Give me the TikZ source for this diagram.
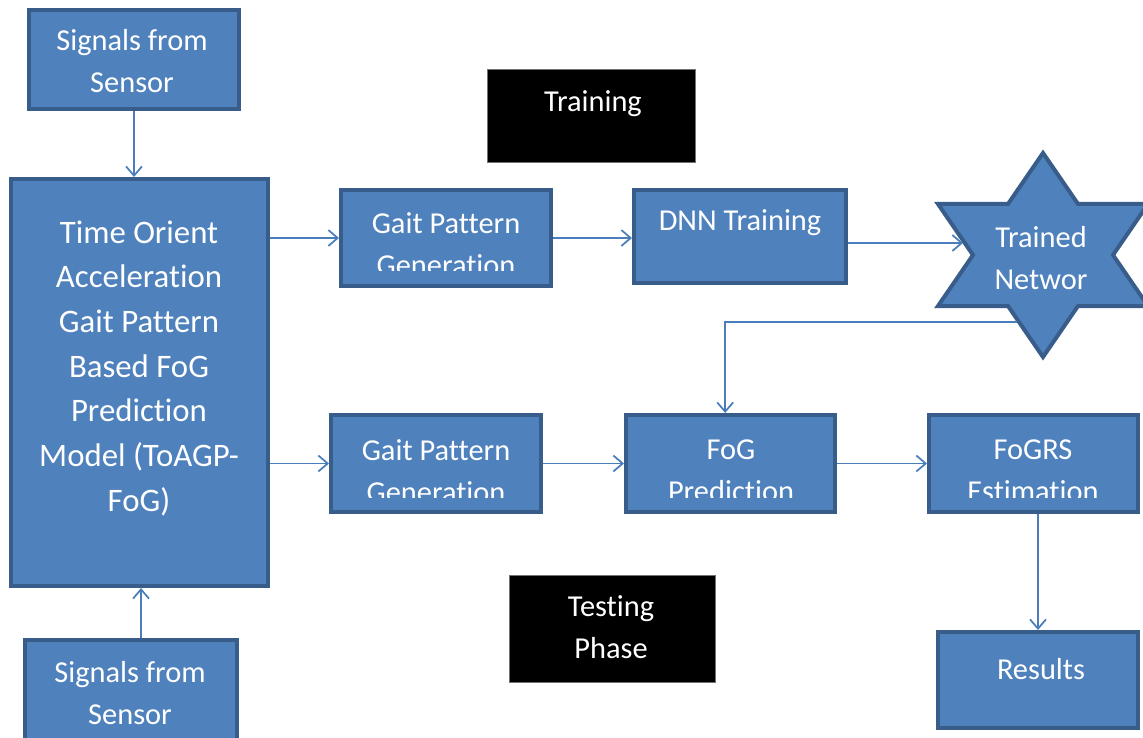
\documentclass[tikz,border=0pt]{standalone}
\usepackage{fontspec}
\setmainfont[Ligatures={NoCommon}]{Carlito}
\usetikzlibrary{arrows.meta,fit}
\definecolor{boxfill}{HTML}{4F81BD}
\definecolor{boxline}{HTML}{385D8A}
\definecolor{arrowc}{HTML}{4A7EBB}
\tikzset{
 box/.style={draw=boxline, line width=3pt, fill=boxfill, inner sep=0pt},
 blk/.style={fill=black, draw=black!55, line width=0.6pt, inner sep=0pt},
 txt/.style={text=white, align=center, font=\fontsize{22.8}{31.5}\selectfont, inner sep=0pt},
 conn/.style={draw=arrowc, line width=1.3pt, -{Straight Barb[length=7pt,width=12pt]}},
}
\newcommand\tbox[8]{%
 \node[#8, fit={(#2,#3)(#4,#5)}] (#1) {};
 \begin{scope}\clip (#2+4,#3+4) rectangle (#4-4,#5-15);
 \node[txt] (#1t) at (#6) {#7};\end{scope}}
\begin{document}
\begin{tikzpicture}[x=0.75pt,y=-0.75pt]
\clip (0,0) rectangle (1143,738);
\fill[white] (0,0) rectangle (1143,738);
\tbox{sig1}{29}{10}{239}{109}{132,61}{Signals from\\Sensor}{box}
\node[box, fit={(11,179)(268,586)}] (main) {};
\node[txt, font=\fontsize{24.6}{33.5}\selectfont] (maint) at (139,368) {Time Orient\\Acceleration\\Gait Pattern\\Based FoG\\Prediction\\Model (ToAGP-\\FoG)};
\tbox{sig2}{25}{640}{237}{760}{130,693}{Signals from\\Sensor}{box}
\tbox{train}{487}{69}{695}{162}{593,103.5}{Training}{blk}
\tbox{test}{509}{575}{715}{682}{611,627.5}{Testing\\Phase}{blk}
\tbox{gait1}{341}{190}{551}{286}{446,244}{Gait Pattern\\Generation}{box}
\tbox{dnn}{634}{190}{846}{283}{740,223}{DNN Training}{box}
\tbox{gait2}{331}{415}{541}{512}{436,471}{Gait Pattern\\Generation}{box}
\tbox{fog}{626}{415}{835}{512}{731,471}{FoG\\Prediction}{box}
\tbox{fogrs}{929}{415}{1138}{512}{1033,471}{FoGRS\\Estimation}{box}
\tbox{res}{938}{632}{1138}{728}{1041,669}{Results}{box}
% star
\draw[draw=boxline, line width=3pt, fill=boxfill, line join=miter]
 (1043,153) -- (1078,204) -- (1148,204) -- (1113,255) -- (1148,306) -- (1078,306)
 -- (1043,357) -- (1008,306) -- (938,306) -- (973,255) -- (938,204) -- (1008,204) -- cycle;
\node[coordinate] (star) at (1043,255) {};
\node[txt] (start) at (1041,258) {Trained\\Networ};
\coordinate (starin) at (963,243);
\coordinate (starout) at (1017,322);
% connectors
\draw[conn] (sig1.south) -- (sig1.south |- main.north);
\draw[conn] ([xshift=7.5pt]sig2.north) -- ([xshift=7.5pt]sig2.north |- main.south);
\draw[conn] (main.east |- gait1.west) -- (gait1.west);
\draw[conn] (gait1.east) -- (dnn.west |- gait1.east);
\draw[conn] (dnn.east |- starin) -- (starin);
\draw[conn] (main.east |- gait2.west) -- (gait2.west);
\draw[conn] (gait2.east) -- (fog.west |- gait2.east);
\draw[conn] (fog.east) -- (fogrs.west |- fog.east);
\draw[conn] (fogrs.south -| res.north) -- (res.north);
\draw[conn] (starout) -| ([xshift=-4pt]fog.north);
\end{tikzpicture}
\end{document}
